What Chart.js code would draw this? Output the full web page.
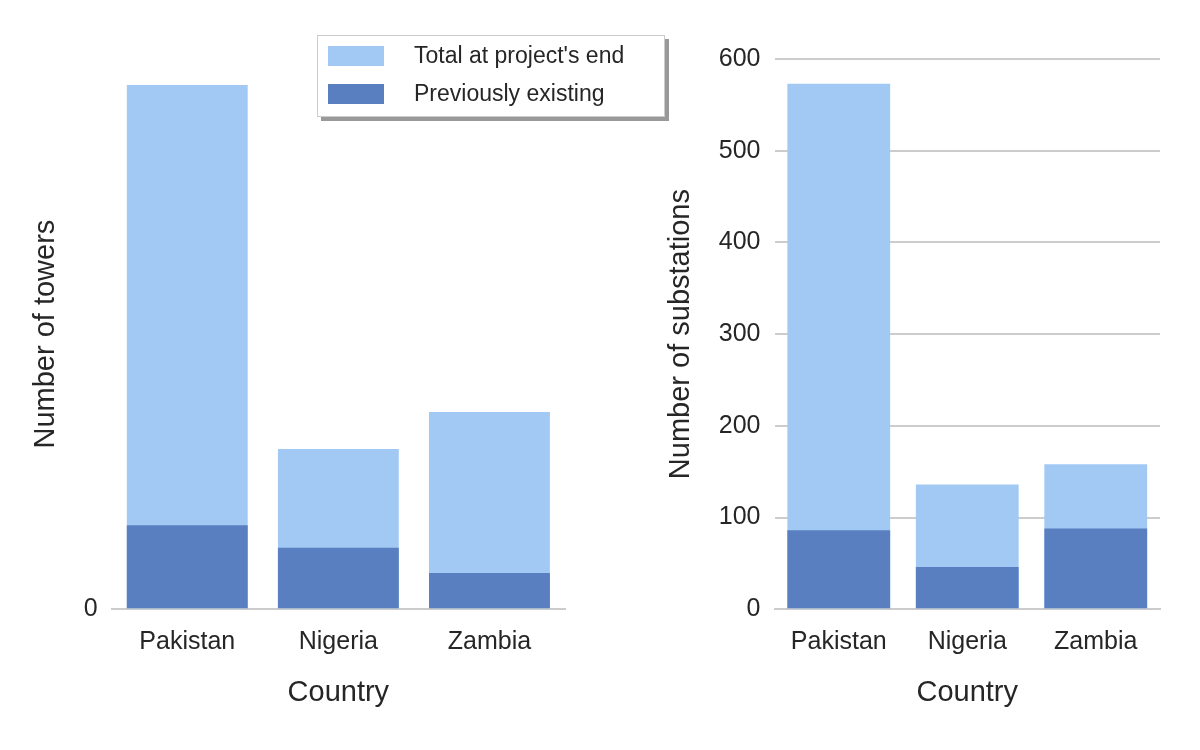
<!DOCTYPE html>
<html>
<head>
<meta charset="utf-8">
<script src="https://cdn.jsdelivr.net/npm/chart.js@4"></script>
<style>
  body { margin: 0; background: #fff; width: 1200px; height: 750px; position: relative; font-family: "Liberation Sans", Arial, sans-serif; }
  .box { position: absolute; top: 30px; height: 690px; }
  #legend { position: absolute; left: 317px; top: 35px; width: 346px; height: 80px; background: #fff;
    border: 1px solid #ccc; box-shadow: 4px 4px 0 #999; font-size: 23px; color: #262626; }
  .item { position: absolute; left: 10px; display: flex; align-items: center; }
  .sw { width: 56px; height: 20px; margin-right: 30px; }
</style>
</head>
<body>
<div class="box" style="left:25px;width:560px"><canvas id="towers"></canvas></div>
<div class="box" style="left:660px;width:520px"><canvas id="subs"></canvas></div>
<div id="legend">
  <div class="item" style="top:6px"><div class="sw" style="background:#a1c9f4"></div>Total at project's end</div>
  <div class="item" style="top:44px"><div class="sw" style="background:#5a7fc0"></div>Previously existing</div>
</div>
<script>
const countries = ["Pakistan", "Nigeria", "Zambia"];
const towersTotal = [93000, 28400, 35000];
const towersPrev = [14900, 10900, 6400];
const subsTotal = [573, 136, 158];
const subsPrev = [86, 46, 88];

Chart.defaults.font.family = '"Liberation Sans", Arial, sans-serif';
Chart.defaults.color = "#262626";

function makeChart(id, total, prev, label, max, step) {
    new Chart(document.getElementById(id), {
        type: "bar",
        data: {
            labels: countries,
            datasets: [
                { label: "Total at project's end", data: total, backgroundColor: "#a1c9f4", order: 2 },
                { label: "Previously existing", data: prev, backgroundColor: "#5a7fc0", order: 1 }
            ]
        },
        options: {
            responsive: true,
            maintainAspectRatio: false,
            animation: false,
            barPercentage: 0.8,
            categoryPercentage: 1,
            layout: { padding: { top: 10, right: 20, bottom: 6 } },
            plugins: { legend: { display: false }, tooltip: { enabled: false } },
            scales: {
                x: {
                    stacked: true,
                    grid: { display: false },
                    border: { color: "#cccccc", width: 2 },
                    ticks: { font: { size: 25 }, padding: 10 },
                    title: { display: true, text: "Country", font: { size: 29 }, padding: { top: 8 } }
                },
                y: {
                    stacked: false,
                    min: 0, max: max,
                    ticks: {
                        stepSize: step, autoSkip: false, font: { size: 25 }, padding: 14,
                        callback: v => (v % step === 0 ? v : null)
                    },
                    grid: { color: "#cccccc", lineWidth: 2, drawTicks: false },
                    border: { display: false },
                    title: { display: true, text: label, font: { size: 29 }, padding: { bottom: 6 } }
                }
            }
        }
    });
}

makeChart("towers", towersTotal, towersPrev, "Number of towers", 97600, 20000);
makeChart("subs", subsTotal, subsPrev, "Number of substations", 600, 100);
</script>
</body>
</html>
